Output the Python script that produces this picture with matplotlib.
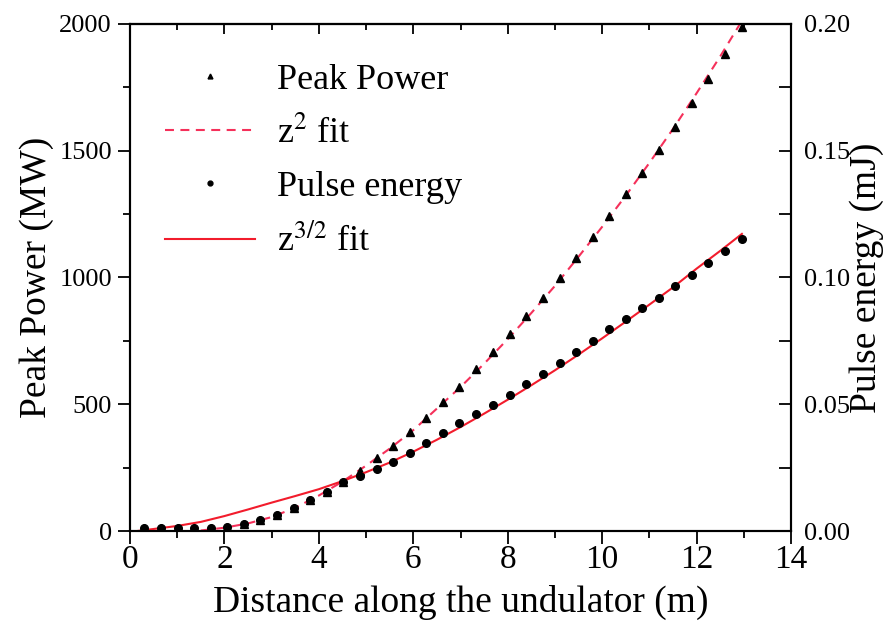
import numpy as np
import matplotlib
matplotlib.use("Agg")
import matplotlib.pyplot as plt
from matplotlib.lines import Line2D
from matplotlib.ticker import FormatStrFormatter

plt.rcParams["font.family"] = ["Liberation Serif", "DejaVu Serif"]
plt.rcParams["mathtext.fontset"] = "stix"

# ── MEASURED POINTS ────────────────────────────────────
z = [0.30, 0.65, 1.01, 1.36, 1.71, 2.06, 2.41, 2.76, 3.11, 3.47, 3.82, 4.17, 4.52,
     4.87, 5.23, 5.58, 5.93, 6.27, 6.62, 6.97, 7.33, 7.68, 8.04, 8.39, 8.74, 9.10,
     9.45, 9.80, 10.15, 10.50, 10.85, 11.20, 11.55, 11.90, 12.25, 12.61, 12.96]
peak_power = [12, 12, 10, 10, 12, 15, 26, 42, 63, 91, 124, 155, 194,
              238, 287, 336, 392, 447, 508, 570, 638, 705, 776, 848, 918, 997,
              1078, 1159, 1243, 1328, 1413, 1503, 1595, 1689, 1784, 1881, 1987]
pulse_energy = [0.0012, 0.0012, 0.0010, 0.0010, 0.0012, 0.0015, 0.0026, 0.0042, 0.0063,
                0.0091, 0.0122, 0.0155, 0.0194, 0.0217, 0.0243, 0.0271, 0.0307, 0.0346,
                0.0388, 0.0425, 0.0460, 0.0497, 0.0538, 0.0578, 0.0621, 0.0662, 0.0706,
                0.0751, 0.0796, 0.0836, 0.0878, 0.0920, 0.0966, 0.1010, 0.1056, 0.1106,
                0.1152]

# ── FIT CURVES ─────────────────────────────────────────
z2_fit_z = [1.5, 2.0, 2.5, 3.0, 3.5, 4.0, 4.5, 5.0, 5.5, 6.0, 6.5, 7.0, 7.5, 8.0,
            8.5, 9.0, 9.5, 10.0, 10.5, 11.0, 11.5, 12.0, 12.5, 13.0]
z2_fit_power = [2, 13, 30, 55, 92, 140, 195, 258, 325, 398, 483, 568, 660, 757,
                860, 967, 1082, 1200, 1323, 1452, 1586, 1727, 1872, 2025]

z32_fit_z = [0.15, 0.5, 1.0, 1.5, 2.0, 2.5, 3.0, 3.5, 4.0, 4.5, 5.0, 5.5, 6.0, 6.5,
             7.0, 7.5, 8.0, 8.5, 9.0, 9.5, 10.0, 10.5, 11.0, 11.5, 12.0, 12.5, 12.96]
z32_fit_energy = [0.0, 0.0008, 0.0020, 0.0036, 0.0059, 0.0085, 0.0112, 0.0138, 0.0165,
                  0.0197, 0.0232, 0.0270, 0.0313, 0.0360, 0.0410, 0.0463, 0.0518, 0.0575,
                  0.0634, 0.0696, 0.0760, 0.0826, 0.0893, 0.0961, 0.1035, 0.1105, 0.1172]

dash_red = "#f5305a"
solid_red = "#f21c2c"
fit_dashes = (4.3, 3.1)

# ── FIGURE ─────────────────────────────────────────────
fig = plt.figure(figsize=(8.88, 6.21), dpi=100)
ax = fig.add_axes([0.1464, 0.1449, 0.7444, 0.8165])
ax2 = ax.twinx()

ax.plot(z2_fit_z, z2_fit_power, color=dash_red, lw=1.5, dashes=fit_dashes, zorder=2)
ax.plot(z, peak_power, linestyle="none", marker="^", ms=5.8, color="black", zorder=3)
ax2.plot(z32_fit_z, z32_fit_energy, color=solid_red, lw=1.5, zorder=2)
ax2.plot(z, pulse_energy, linestyle="none", marker="o", ms=5.5, color="black", zorder=3)

ax.set_xlim(0, 14)
ax.set_ylim(0, 2000)
ax2.set_ylim(0, 0.2)

ax.set_xticks(range(0, 15, 2))
ax.set_xticks(range(1, 14, 2), minor=True)
ax.set_yticks(range(0, 2001, 500))
ax.set_yticks(range(250, 2000, 500), minor=True)
ax2.set_yticks([0, 0.05, 0.10, 0.15, 0.20])
ax2.set_yticks([0.025, 0.075, 0.125, 0.175], minor=True)
ax2.yaxis.set_major_formatter(FormatStrFormatter("%.2f"))

# left/bottom ticks point out, right/top point in
ax.tick_params(which="both", direction="out", width=1.3, top=False, right=False)
ax.tick_params(axis="x", labelsize=24, pad=1)
ax.tick_params(axis="y", labelsize=19, pad=4)
ax.tick_params(which="major", length=9)
ax.tick_params(which="minor", length=5)
ax2.tick_params(which="both", direction="in", width=1.3, labelsize=19, pad=9)
ax2.tick_params(which="major", length=9)
ax2.tick_params(which="minor", length=9)

top = ax.secondary_xaxis("top")
top.set_xticks(range(0, 15, 2))
top.set_xticks(range(1, 14, 2), minor=True)
top.tick_params(which="both", direction="in", width=1.3, labeltop=False)
top.tick_params(which="major", length=7)
top.tick_params(which="minor", length=4)

for a in (ax, ax2):
    for s in a.spines.values():
        s.set_linewidth(1.5)
top.spines["top"].set_linewidth(1.5)

ax.set_xlabel("Distance along the undulator (m)", fontsize=27, labelpad=7)
ax.set_ylabel("Peak Power (MW)", fontsize=27, labelpad=4)
ax2.set_ylabel("Pulse energy (mJ)", fontsize=27, labelpad=0)

handles = [
    Line2D([], [], linestyle="none", marker="^", ms=3.5, color="black"),
    Line2D([], [], color=dash_red, lw=1.5, dashes=fit_dashes),
    Line2D([], [], linestyle="none", marker="o", ms=3.5, color="black"),
    Line2D([], [], color=solid_red, lw=1.5),
]
labels = ["Peak Power", "z$^{2}$ fit", "Pulse energy", "z$^{3/2}$ fit"]
ax2.legend(handles, labels, loc="upper left", bbox_to_anchor=(0.053, 0.922),
           frameon=False, fontsize=26, handlelength=2.5, handletextpad=0.6,
           labelspacing=0.55, borderpad=0, borderaxespad=0)

fig.savefig("out.png", dpi=100)
